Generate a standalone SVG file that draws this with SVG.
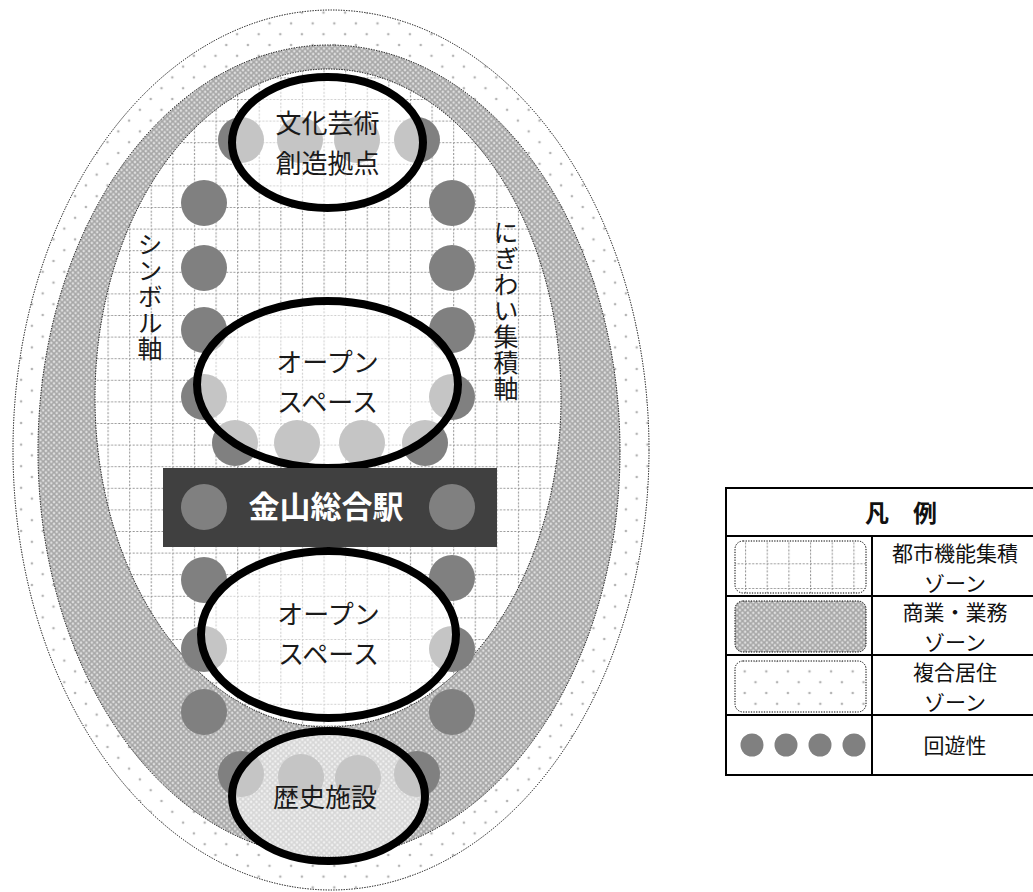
<svg xmlns="http://www.w3.org/2000/svg" width="1033" height="892" viewBox="0 0 1033 892">
<style>
.zone{stroke:#000;stroke-width:1;stroke-dasharray:1.3 1.3}
.dk{fill:#808080}
.ov{fill:#fff;fill-opacity:0.54;stroke:#000;stroke-width:8}
.t{font-family:"Noto Sans CJK JP","Noto Sans",sans-serif;font-size:26px;fill:#1a1a1a;text-anchor:middle}
.v{font-family:"Noto Sans CJK JP","Noto Sans",sans-serif;font-size:25px;fill:#1a1a1a;writing-mode:vertical-rl;letter-spacing:1px}
.lg{font-family:"Noto Sans CJK JP","Noto Sans",sans-serif;font-size:21px;fill:#111;text-anchor:middle}
.sw{stroke:#000;stroke-width:1;stroke-dasharray:1.3 1.3}
.gl{stroke:#969696;stroke-width:2.2;stroke-dasharray:2 1.6}
</style>
<defs>
<pattern id="grid" patternUnits="userSpaceOnUse" x="-0.5" y="12.6" width="21.6" height="21.6">
<rect width="21.6" height="21.6" fill="#fff"/>
<line class="gl" x1="0" y1="0" x2="21.6" y2="0"/>
<line class="gl" x1="0" y1="0" x2="0" y2="21.6"/>
</pattern>
<pattern id="gridL" patternUnits="userSpaceOnUse" x="745" y="563.3" width="21.67" height="24.7">
<rect width="21.67" height="24.7" fill="#fff"/>
<line class="gl" x1="0" y1="0" x2="21.67" y2="0"/>
<line class="gl" x1="0" y1="0" x2="0" y2="24.7"/>
</pattern>
<pattern id="com" patternUnits="userSpaceOnUse" x="0" y="0" width="5.4" height="5.4">
<rect width="5.4" height="5.4" fill="#a6a6a6"/>
<circle cx="0" cy="0" r="1.3" fill="#dedede"/>
<circle cx="5.4" cy="0" r="1.3" fill="#dedede"/>
<circle cx="0" cy="5.4" r="1.3" fill="#dedede"/>
<circle cx="5.4" cy="5.4" r="1.3" fill="#dedede"/>
<circle cx="2.7" cy="2.7" r="1.3" fill="#dedede"/>
</pattern>
<pattern id="res" patternUnits="userSpaceOnUse" x="-0.5" y="12.6" width="21.6" height="21.6">
<rect width="21.6" height="21.6" fill="#fff"/>
<circle cx="0" cy="0" r="1.3" fill="#b4b4b4"/>
<circle cx="21.6" cy="0" r="1.3" fill="#b4b4b4"/>
<circle cx="0" cy="21.6" r="1.3" fill="#b4b4b4"/>
<circle cx="21.6" cy="21.6" r="1.3" fill="#b4b4b4"/>
<circle cx="10.8" cy="10.8" r="1.3" fill="#b4b4b4"/>
</pattern>
</defs>
<rect width="1033" height="892" fill="#fff"/>

<g id="zones">
<ellipse id="zone-residential" class="zone" cx="331" cy="450" rx="318" ry="440" fill="url(#res)"/>
<ellipse id="zone-commercial" class="zone" cx="329" cy="451" rx="291" ry="406" fill="url(#com)"/>
<ellipse id="zone-urban" class="zone" cx="328" cy="398" rx="233" ry="329" fill="url(#grid)"/>
</g>

<g id="circulation">
<circle class="dk" cx="241" cy="140" r="23"/>
<circle class="dk" cx="300" cy="140" r="23"/>
<circle class="dk" cx="357" cy="140" r="23"/>
<circle class="dk" cx="417" cy="140" r="23"/>
<circle class="dk" cx="204" cy="203" r="23"/>
<circle class="dk" cx="204" cy="268" r="23"/>
<circle class="dk" cx="204" cy="330" r="23"/>
<circle class="dk" cx="204" cy="397" r="23"/>
<circle class="dk" cx="452" cy="203" r="23"/>
<circle class="dk" cx="452" cy="268" r="23"/>
<circle class="dk" cx="452" cy="330" r="23"/>
<circle class="dk" cx="452" cy="397" r="23"/>
<circle class="dk" cx="235" cy="443" r="23"/>
<circle class="dk" cx="297" cy="443" r="23"/>
<circle class="dk" cx="362" cy="443" r="23"/>
<circle class="dk" cx="425" cy="443" r="23"/>
<circle class="dk" cx="204" cy="580" r="23"/>
<circle class="dk" cx="204" cy="649" r="23"/>
<circle class="dk" cx="204" cy="712" r="23"/>
<circle class="dk" cx="452" cy="578" r="23"/>
<circle class="dk" cx="452" cy="649" r="23"/>
<circle class="dk" cx="452" cy="712" r="23"/>
<circle class="dk" cx="241" cy="774" r="23"/>
<circle class="dk" cx="301" cy="777" r="23"/>
<circle class="dk" cx="358" cy="778" r="23"/>
<circle class="dk" cx="417" cy="774" r="23"/>
</g>

<g id="node-culture">
<ellipse class="ov" cx="327.5" cy="142.5" rx="95.5" ry="65.5"/>
<text class="t" x="327.5" y="133">文化芸術<tspan x="327.5" y="173">創造拠点</tspan></text>
</g>

<g id="node-open-upper">
<ellipse class="ov" cx="327.5" cy="384.5" rx="130.5" ry="83.5"/>
<text class="t" x="327.5" y="372">オープン<tspan x="327.5" y="412">スペース</tspan></text>
</g>

<g id="node-open-lower">
<ellipse class="ov" cx="328.5" cy="634.5" rx="127.5" ry="83.5"/>
<text class="t" x="328.5" y="624">オープン<tspan x="328.5" y="664">スペース</tspan></text>
</g>

<g id="node-history">
<ellipse class="ov" cx="328.5" cy="796" rx="96.5" ry="65"/>
<text class="t" x="325" y="807">歴史施設</text>
</g>

<g id="node-station">
<rect x="163" y="468" width="334" height="79" fill="#404040"/>
<circle class="dk" cx="204" cy="507" r="23"/>
<circle class="dk" cx="452" cy="507" r="23"/>
<text x="326" y="518" font-family="Noto Sans CJK JP, Noto Sans, sans-serif" font-size="31" font-weight="bold" fill="#fff" text-anchor="middle">金山総合駅</text>
</g>

<g id="axis-labels">
<text class="v" x="150" y="232">シンボル軸</text>
<text class="v" x="506" y="220">にぎわい集積軸</text>
</g>

<g id="legend">
<rect x="726" y="488" width="320" height="287" fill="#fff" stroke="#000" stroke-width="2"/>
<line x1="726" y1="536" x2="1040" y2="536" stroke="#000" stroke-width="2"/>
<line x1="726" y1="596" x2="1040" y2="596" stroke="#000" stroke-width="2"/>
<line x1="726" y1="655" x2="1040" y2="655" stroke="#000" stroke-width="2"/>
<line x1="726" y1="715" x2="1040" y2="715" stroke="#000" stroke-width="2"/>
<line x1="872" y1="536" x2="872" y2="775" stroke="#000" stroke-width="2"/>
<text x="901" y="522" font-family="Noto Sans CJK JP, Noto Sans, sans-serif" font-size="24" font-weight="bold" fill="#111" text-anchor="middle">凡　例</text>
<rect class="sw" x="735" y="541" width="131" height="52" rx="8" fill="url(#gridL)"/>
<rect class="sw" x="735" y="601" width="131" height="51" rx="8" fill="url(#com)"/>
<rect class="sw" x="735" y="661" width="131" height="51" rx="8" fill="url(#res)"/>
<circle class="dk" cx="752" cy="745" r="11.5"/>
<circle class="dk" cx="786" cy="745" r="11.5"/>
<circle class="dk" cx="820" cy="745" r="11.5"/>
<circle class="dk" cx="854" cy="745" r="11.5"/>
<text class="lg" x="955" y="560.5">都市機能集積<tspan x="955" y="591">ゾーン</tspan></text>
<text class="lg" x="955" y="619.5">商業・業務<tspan x="955" y="650">ゾーン</tspan></text>
<text class="lg" x="955" y="679.5">複合居住<tspan x="955" y="710">ゾーン</tspan></text>
<text class="lg" x="955" y="753">回遊性</text>
</g>
</svg>
